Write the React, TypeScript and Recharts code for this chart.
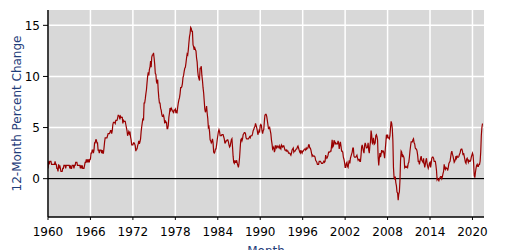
import { CartesianGrid, Line, LineChart, ReferenceLine, XAxis, YAxis } from "recharts"

// 12-month percent change, monthly (Jan..Dec per row)
const values1960s = [
  1.0, 1.7, 1.4, 1.7, 1.7, 1.7, 1.4, 1.4, 1.4, 1.4, 1.4, 1.4,
  1.7, 1.4, 1.4, 1.0, 1.0, 0.7, 1.4, 1.0, 1.3, 1.0, 0.7, 0.7,
  0.7, 1.0, 1.0, 1.3, 1.3, 1.3, 1.0, 1.3, 1.3, 1.3, 1.3, 1.3,
  1.3, 1.0, 1.3, 1.0, 1.0, 1.3, 1.3, 1.3, 1.0, 1.3, 1.3, 1.6,
  1.6, 1.6, 1.3, 1.3, 1.3, 1.3, 1.3, 1.0, 1.3, 1.0, 1.3, 1.0,
  1.0, 1.0, 1.3, 1.6, 1.6, 1.9, 1.6, 1.9, 1.6, 1.9, 1.6, 1.9,
  1.9, 2.5, 2.5, 2.8, 2.8, 2.5, 2.8, 3.5, 3.5, 3.8, 3.8, 3.5,
  3.5, 2.8, 2.8, 2.5, 2.8, 2.8, 2.8, 2.5, 2.8, 2.5, 2.5, 3.0,
  3.6, 4.0, 4.0, 4.0, 4.0, 4.2, 4.4, 4.4, 4.4, 4.5, 4.7, 4.7,
  4.4, 4.7, 5.3, 5.5, 5.5, 5.5, 5.4, 5.7, 5.7, 5.7, 5.9, 6.2,
]
const values1970s = [
  6.2, 6.1, 5.8, 6.1, 6.0, 6.0, 6.0, 5.4, 5.7, 5.6, 5.6, 5.6,
  5.3, 5.0, 4.7, 4.2, 4.4, 4.6, 4.4, 4.6, 4.1, 3.8, 3.3, 3.3,
  3.3, 3.5, 3.5, 3.4, 3.2, 2.7, 2.9, 2.9, 3.2, 3.4, 3.7, 3.4,
  3.6, 3.9, 4.6, 5.1, 5.5, 5.9, 5.7, 7.4, 7.4, 7.8, 8.3, 8.7,
  9.4, 10.0, 10.4, 10.1, 10.7, 10.9, 11.5, 10.9, 11.9, 12.1, 12.1, 12.3,
  11.8, 11.2, 10.3, 10.2, 9.5, 9.3, 9.7, 8.6, 7.9, 7.4, 7.4, 6.9,
  6.7, 6.3, 6.1, 6.1, 6.2, 5.9, 5.4, 5.7, 5.5, 5.5, 4.9, 4.9,
  5.2, 6.0, 6.4, 6.9, 6.7, 6.9, 6.8, 6.6, 6.6, 6.4, 6.7, 6.7,
  6.8, 6.4, 6.6, 6.5, 7.0, 7.4, 7.7, 7.9, 8.3, 8.9, 8.9, 9.0,
  9.3, 9.9, 10.1, 10.5, 10.8, 10.9, 11.3, 11.8, 12.2, 12.1, 12.6, 13.3,
]
const values1980s = [
  13.9, 14.2, 14.8, 14.7, 14.4, 14.4, 13.1, 12.9, 12.6, 12.8, 12.6, 12.5,
  11.8, 11.4, 10.5, 10.0, 9.8, 9.6, 10.8, 10.8, 11.0, 10.1, 9.6, 8.9,
  8.4, 7.6, 6.8, 6.5, 6.7, 7.1, 6.4, 5.9, 5.0, 5.1, 4.6, 3.8,
  3.7, 3.5, 3.6, 3.9, 3.5, 2.6, 2.5, 2.6, 2.9, 2.9, 3.3, 3.8,
  4.2, 4.6, 4.8, 4.6, 4.2, 4.2, 4.2, 4.3, 4.3, 4.3, 4.1, 3.9,
  3.5, 3.5, 3.7, 3.7, 3.8, 3.8, 3.6, 3.3, 3.1, 3.2, 3.5, 3.8,
  3.9, 3.1, 2.2, 1.6, 1.5, 1.8, 1.6, 1.6, 1.8, 1.5, 1.3, 1.1,
  1.5, 2.1, 3.0, 3.8, 3.9, 3.7, 3.9, 4.3, 4.4, 4.5, 4.5, 4.4,
  4.0, 3.9, 3.9, 3.9, 3.9, 4.0, 4.1, 4.0, 4.2, 4.2, 4.2, 4.4,
  4.7, 4.8, 5.0, 5.1, 5.4, 5.2, 5.0, 4.7, 4.3, 4.5, 4.7, 4.6,
]
const values1990s = [
  5.2, 5.3, 5.2, 4.7, 4.4, 4.7, 4.8, 5.6, 6.2, 6.3, 6.3, 6.1,
  5.7, 5.3, 4.9, 4.9, 5.0, 4.7, 4.4, 3.8, 3.4, 2.9, 3.0, 3.1,
  2.6, 2.8, 3.2, 3.2, 3.0, 3.1, 3.2, 3.1, 3.0, 3.2, 3.0, 2.9,
  3.3, 3.2, 3.1, 3.2, 3.2, 3.0, 2.8, 2.8, 2.7, 2.8, 2.7, 2.7,
  2.5, 2.5, 2.5, 2.4, 2.3, 2.5, 2.8, 2.9, 3.0, 2.6, 2.7, 2.7,
  2.8, 2.9, 2.9, 3.1, 3.2, 3.0, 2.8, 2.6, 2.5, 2.8, 2.6, 2.5,
  2.7, 2.7, 2.8, 2.9, 2.9, 2.8, 3.0, 2.9, 3.0, 3.0, 3.3, 3.3,
  3.0, 3.0, 2.8, 2.5, 2.2, 2.3, 2.2, 2.2, 2.2, 2.1, 1.8, 1.7,
  1.6, 1.4, 1.4, 1.4, 1.7, 1.7, 1.7, 1.6, 1.5, 1.5, 1.5, 1.6,
  1.7, 1.6, 1.7, 2.3, 2.1, 2.0, 2.1, 2.3, 2.6, 2.6, 2.6, 2.7,
]
const values2000s = [
  2.7, 3.2, 3.8, 3.1, 3.2, 3.7, 3.7, 3.4, 3.5, 3.4, 3.4, 3.4,
  3.7, 3.5, 2.9, 3.3, 3.6, 3.2, 2.7, 2.7, 2.6, 2.1, 1.9, 1.6,
  1.1, 1.1, 1.5, 1.6, 1.2, 1.1, 1.5, 1.8, 1.5, 2.0, 2.2, 2.4,
  2.6, 3.0, 3.0, 2.2, 2.1, 2.1, 2.1, 2.2, 2.3, 2.0, 1.8, 1.9,
  1.9, 1.7, 1.7, 2.3, 3.1, 3.3, 3.0, 2.7, 2.5, 3.2, 3.5, 3.3,
  3.0, 3.0, 3.1, 3.5, 2.8, 2.5, 3.2, 3.6, 4.7, 4.3, 3.5, 3.4,
  4.0, 3.6, 3.4, 3.5, 4.2, 4.3, 4.1, 3.8, 2.1, 1.3, 2.0, 2.5,
  2.1, 2.4, 2.8, 2.6, 2.7, 2.7, 2.4, 2.0, 2.8, 3.5, 4.3, 4.1,
  4.3, 4.0, 4.0, 3.9, 4.2, 5.0, 5.6, 5.4, 4.9, 3.7, 1.1, 0.1,
  0.0, 0.2, -0.4, -0.7, -1.3, -1.4, -2.1, -1.5, -1.3, -0.2, 1.8, 2.7,
]
const values2010s = [
  2.6, 2.1, 2.3, 2.2, 2.0, 1.1, 1.2, 1.1, 1.1, 1.2, 1.1, 1.5,
  1.6, 2.1, 2.7, 3.2, 3.6, 3.6, 3.6, 3.8, 3.9, 3.5, 3.4, 3.0,
  2.9, 2.9, 2.7, 2.3, 1.7, 1.7, 1.4, 1.7, 2.0, 2.2, 1.8, 1.7,
  1.6, 2.0, 1.5, 1.1, 1.4, 1.8, 2.0, 1.5, 1.2, 1.0, 1.2, 1.5,
  1.6, 1.1, 1.5, 2.0, 2.1, 2.1, 2.0, 1.7, 1.7, 1.7, 1.3, 0.8,
  -0.1, 0.0, -0.1, -0.2, 0.0, 0.1, 0.2, 0.2, 0.0, 0.2, 0.5, 0.7,
  1.4, 1.0, 0.9, 1.1, 1.0, 1.0, 0.8, 1.1, 1.5, 1.6, 1.7, 2.1,
  2.5, 2.7, 2.4, 2.2, 1.9, 1.6, 1.7, 1.9, 2.2, 2.0, 2.2, 2.1,
  2.1, 2.2, 2.4, 2.5, 2.8, 2.9, 2.9, 2.7, 2.3, 2.5, 2.2, 1.9,
  1.6, 1.5, 1.9, 2.0, 1.8, 1.6, 1.8, 1.7, 1.7, 1.8, 2.1, 2.3,
]
const values2020s = [
  2.5, 2.3, 1.5, 0.3, 0.1, 0.6, 1.0, 1.3, 1.4, 1.2, 1.2, 1.4,
  1.4, 1.7, 2.6, 4.2, 5.0, 5.4,
]

const startYear = 1960
const yearTicks = [1960, 1966, 1972, 1978, 1984, 1990, 1996, 2002, 2008, 2014, 2020]
const valueTicks = [0, 5, 10, 15]

const allValues = [
  ...values1960s, ...values1970s, ...values1980s,
  ...values1990s, ...values2000s, ...values2010s, ...values2020s,
]
const data = allValues.map((v, i) => ({ t: startYear + i / 12, pct: v }))

const labelBlue = "#1f3d7a"
const tickFont = { fontFamily: "DejaVu Sans, Verdana, sans-serif", fontSize: 12, fill: "#000" }

export default function App() {
  return (
    <div style={{ position: "absolute", left: 0, top: 0 }}>
      <style>{"body{margin:0}"}</style>
      <LineChart
        width={509}
        height={250}
        data={data}
        margin={{ top: 10, right: 25, left: 0, bottom: 0 }}
      >
        <CartesianGrid
          fill="#d8d8d8"
          fillOpacity={1}
          stroke="#ffffff"
          strokeWidth={1.5}
          horizontalValues={valueTicks}
          verticalValues={yearTicks}
        />
        <XAxis
          dataKey="t"
          type="number"
          domain={[1960, 2021.63]}
          ticks={yearTicks}
          allowDataOverflow
          height={33}
          tickLine={{ stroke: "#000" }}
          tickSize={3}
          tickMargin={7}
          axisLine={{ stroke: "#000", strokeWidth: 1.5 }}
          tick={tickFont}
          label={{
            value: "Month",
            position: "insideBottom",
            offset: -5,
            style: { fontFamily: "DejaVu Sans, Verdana, sans-serif", fontSize: 12, fill: labelBlue },
          }}
        />
        <XAxis
          xAxisId="top"
          orientation="top"
          dataKey="t"
          type="number"
          domain={[1960, 2021.63]}
          height={0}
          tick={false}
          tickLine={false}
          axisLine={{ stroke: "#000", strokeWidth: 1.5 }}
        />
        <YAxis
          type="number"
          domain={[-3.75, 16.5]}
          ticks={valueTicks}
          allowDataOverflow
          width={48}
          tickSize={5}
          tickMargin={3}
          tickLine={{ stroke: "#000" }}
          axisLine={{ stroke: "#000", strokeWidth: 1.5 }}
          tick={tickFont}
          label={{
            value: "12-Month Percent Change",
            angle: -90,
            position: "insideLeft",
            offset: 17,
            style: {
              fontFamily: "DejaVu Sans, Verdana, sans-serif",
              fontSize: 12,
              fill: labelBlue,
              textAnchor: "middle",
            },
          }}
        />
        <YAxis
          yAxisId="right"
          orientation="right"
          type="number"
          domain={[-3.75, 16.5]}
          width={0}
          tick={false}
          tickLine={false}
          axisLine={{ stroke: "#000", strokeWidth: 1.5 }}
        />
        <ReferenceLine y={0} stroke="#000" strokeWidth={1.2} />
        <Line
          type="linear"
          dataKey="pct"
          stroke="#990000"
          strokeWidth={1.2}
          dot={false}
          activeDot={false}
          isAnimationActive={false}
        />
      </LineChart>
    </div>
  )
}
